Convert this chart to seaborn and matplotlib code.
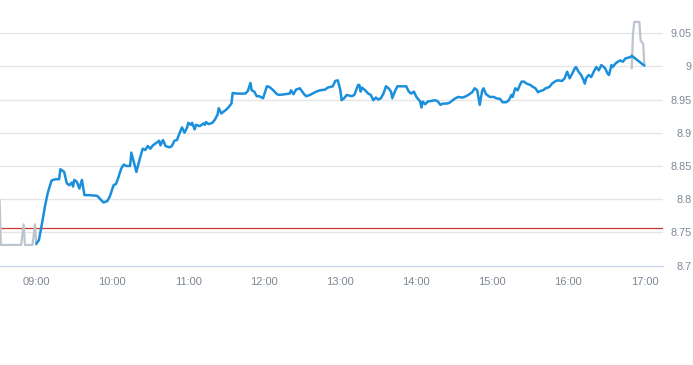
import matplotlib
matplotlib.use("Agg")
import matplotlib.pyplot as plt
import seaborn as sns
import pandas as pd

# ---------------- data ----------------
pre_times = ["08:31", "08:32", "08:48", "08:50", "08:51", "08:57", "08:59", "09:00"]
pre_prices = [8.799, 8.731, 8.731, 8.762, 8.731, 8.731, 8.762, 8.731]

reg_times = [
    "09:00", "09:02", "09:04", "09:07", "09:09", "09:12", "09:15", "09:18", "09:19", "09:22",
    "09:24", "09:26", "09:28", "09:29", "09:30", "09:32", "09:34", "09:36", "09:38", "09:42",
    "09:48", "09:51", "09:53", "09:56", "09:58", "10:01", "10:03", "10:05", "10:07", "10:09",
    "10:11", "10:14", "10:15", "10:19", "10:22", "10:24", "10:26", "10:28", "10:30", "10:32",
    "10:35", "10:37", "10:38", "10:40", "10:42", "10:45", "10:47", "10:49", "10:51", "10:53",
    "10:55", "10:57", "10:59", "11:00", "11:02", "11:03", "11:05", "11:06", "11:09", "11:12",
    "11:13", "11:14", "11:16", "11:19", "11:21", "11:23", "11:24", "11:26", "11:28", "11:30",
    "11:32", "11:34", "11:35", "11:38", "11:45", "11:47", "11:49", "11:50", "11:52", "11:54",
    "11:56", "11:59", "12:02", "12:04", "12:07", "12:10", "12:12", "12:16", "12:20", "12:21",
    "12:23", "12:25", "12:28", "12:31", "12:33", "12:36", "12:39", "12:41", "12:44", "12:48",
    "12:50", "12:54", "12:56", "12:58", "13:00", "13:01", "13:03", "13:05", "13:09", "13:11",
    "13:14", "13:15", "13:16", "13:17", "13:19", "13:22", "13:24", "13:26", "13:28", "13:30",
    "13:32", "13:34", "13:36", "13:38", "13:40", "13:41", "13:43", "13:45", "13:52", "13:54",
    "13:56", "13:58", "14:00", "14:03", "14:04", "14:05", "14:07", "14:09", "14:12", "14:15",
    "14:17", "14:19", "14:21", "14:24", "14:26", "14:28", "14:30", "14:33", "14:36", "14:38",
    "14:41", "14:44", "14:46", "14:48", "14:50", "14:52", "14:53", "14:55", "14:58", "15:01",
    "15:03", "15:06", "15:08", "15:11", "15:13", "15:15", "15:16", "15:18", "15:20", "15:21",
    "15:23", "15:25", "15:27", "15:30", "15:32", "15:34", "15:36", "15:38", "15:40", "15:42",
    "15:45", "15:47", "15:50", "15:52", "15:55", "15:57", "15:59", "16:01", "16:03", "16:05",
    "16:06", "16:08", "16:10", "16:12", "16:13", "16:14", "16:16", "16:18", "16:20", "16:22",
    "16:24", "16:26", "16:28", "16:29", "16:31", "16:32", "16:34", "16:35", "16:37", "16:39",
    "16:41", "16:43", "16:45", "16:47", "16:49", "16:50", "17:00",
]
reg_prices = [
    8.733, 8.738, 8.758, 8.791, 8.809, 8.828, 8.830, 8.830, 8.845, 8.841,
    8.824, 8.821, 8.825, 8.819, 8.829, 8.826, 8.816, 8.829, 8.806, 8.806,
    8.805, 8.799, 8.795, 8.797, 8.804, 8.821, 8.823, 8.834, 8.846, 8.852,
    8.850, 8.850, 8.870, 8.841, 8.863, 8.876, 8.874, 8.880, 8.876, 8.881,
    8.885, 8.888, 8.881, 8.889, 8.880, 8.878, 8.880, 8.888, 8.889, 8.899,
    8.908, 8.900, 8.908, 8.915, 8.912, 8.915, 8.905, 8.912, 8.910, 8.914,
    8.912, 8.916, 8.913, 8.915, 8.920, 8.927, 8.937, 8.929, 8.932, 8.935,
    8.939, 8.944, 8.960, 8.959, 8.959, 8.963, 8.975, 8.964, 8.962, 8.955,
    8.955, 8.952, 8.970, 8.969, 8.964, 8.958, 8.957, 8.958, 8.959, 8.964,
    8.958, 8.965, 8.967, 8.959, 8.955, 8.957, 8.960, 8.962, 8.964, 8.965,
    8.968, 8.970, 8.978, 8.979, 8.964, 8.949, 8.952, 8.957, 8.955, 8.957,
    8.972, 8.972, 8.962, 8.968, 8.965, 8.959, 8.957, 8.949, 8.953, 8.950,
    8.952, 8.959, 8.970, 8.967, 8.962, 8.952, 8.962, 8.970, 8.970, 8.962,
    8.959, 8.962, 8.954, 8.947, 8.938, 8.947, 8.943, 8.947, 8.948, 8.949,
    8.947, 8.942, 8.944, 8.944, 8.945, 8.948, 8.951, 8.954, 8.953, 8.954,
    8.957, 8.961, 8.967, 8.964, 8.942, 8.964, 8.967, 8.958, 8.954, 8.954,
    8.952, 8.951, 8.946, 8.946, 8.949, 8.957, 8.954, 8.967, 8.964, 8.969,
    8.977, 8.977, 8.974, 8.972, 8.969, 8.967, 8.961, 8.963, 8.964, 8.967,
    8.969, 8.974, 8.978, 8.979, 8.978, 8.982, 8.992, 8.982, 8.989, 8.997,
    8.999, 8.992, 8.987, 8.979, 8.974, 8.982, 8.987, 8.984, 8.992, 8.999,
    8.994, 9.002, 8.999, 8.997, 8.989, 8.987, 9.002, 8.999, 9.004, 9.007,
    9.009, 9.007, 9.012, 9.013, 9.014, 9.016, 9.001,
]

post_times = ["16:50", "16:51", "16:52", "16:56", "16:57", "16:59", "17:00"]
post_prices = [8.997, 9.050, 9.067, 9.067, 9.039, 9.034, 9.002]

prev_close = 8.757

y_ticks = [8.70, 8.75, 8.80, 8.85, 8.90, 8.95, 9.00, 9.05]
y_tick_labels = ["8.7", "8.75", "8.8", "8.85", "8.9", "8.95", "9", "9.05"]
x_tick_labels = ["09:00", "10:00", "11:00", "12:00", "13:00", "14:00", "15:00", "16:00", "17:00"]

DAY = "2024-01-02 "


def to_ts(times):
    return pd.to_datetime([DAY + t for t in times])


pre_df = pd.DataFrame({"time": to_ts(pre_times), "price": pre_prices})
reg_df = pd.DataFrame({"time": to_ts(reg_times), "price": reg_prices})
post_df = pd.DataFrame({"time": to_ts(post_times), "price": post_prices})

# ---------------- style ----------------
sns.set_theme(style="white")
plt.rcParams["font.family"] = ["Liberation Sans", "DejaVu Sans"]

BLUE = "#1a8fdc"
GRAY = "#bcc5cd"
RED = "#c8392f"
GRID = "#e6e6e6"
AXIS = "#ccd6eb"
LABEL = "#7d8792"

fig = plt.figure(figsize=(6.93, 3.65), dpi=100)
ax = fig.add_axes([0.0, 1 - 265.5 / 365, 663 / 693, 265.5 / 365])

ax.axhline(prev_close, color=RED, lw=0.9, zorder=2)

sns.lineplot(data=pre_df, x="time", y="price", ax=ax, color=GRAY, lw=1.6,
             estimator=None, sort=False, zorder=3)
sns.lineplot(data=post_df, x="time", y="price", ax=ax, color=GRAY, lw=1.6,
             estimator=None, sort=False, zorder=3)
sns.lineplot(data=reg_df, x="time", y="price", ax=ax, color=BLUE, lw=1.8,
             estimator=None, sort=False, zorder=4)

# axes limits
ax.set_xlim(pd.Timestamp(DAY + "08:31:20"), pd.Timestamp(DAY + "17:14:40"))
ax.set_ylim(8.7, 9.1)

# grid
for v in y_ticks[1:]:
    ax.axhline(v, color=GRID, lw=1.0, zorder=1)

# y axis on right
ax.yaxis.tick_right()
ax.set_yticks(y_ticks)
ax.set_yticklabels(y_tick_labels)
ax.tick_params(axis="y", length=0, pad=20.5, labelsize=7.8, labelcolor=LABEL)
for lab in ax.get_yticklabels():
    lab.set_horizontalalignment("right")

# x axis
x_ticks = to_ts(x_tick_labels)
ax.set_xticks(x_ticks)
ax.set_xticklabels(x_tick_labels)
ax.tick_params(axis="x", length=4.5, width=1.0, color=AXIS, pad=3.5,
               labelsize=8.0, labelcolor=LABEL)

ax.set_xlabel("")
ax.set_ylabel("")
for side in ["top", "left", "right"]:
    ax.spines[side].set_visible(False)
ax.spines["bottom"].set_color(AXIS)
ax.spines["bottom"].set_linewidth(1.0)
ax.grid(False)
if ax.get_legend() is not None:
    ax.get_legend().remove()

fig.savefig("out.png", dpi=100)
